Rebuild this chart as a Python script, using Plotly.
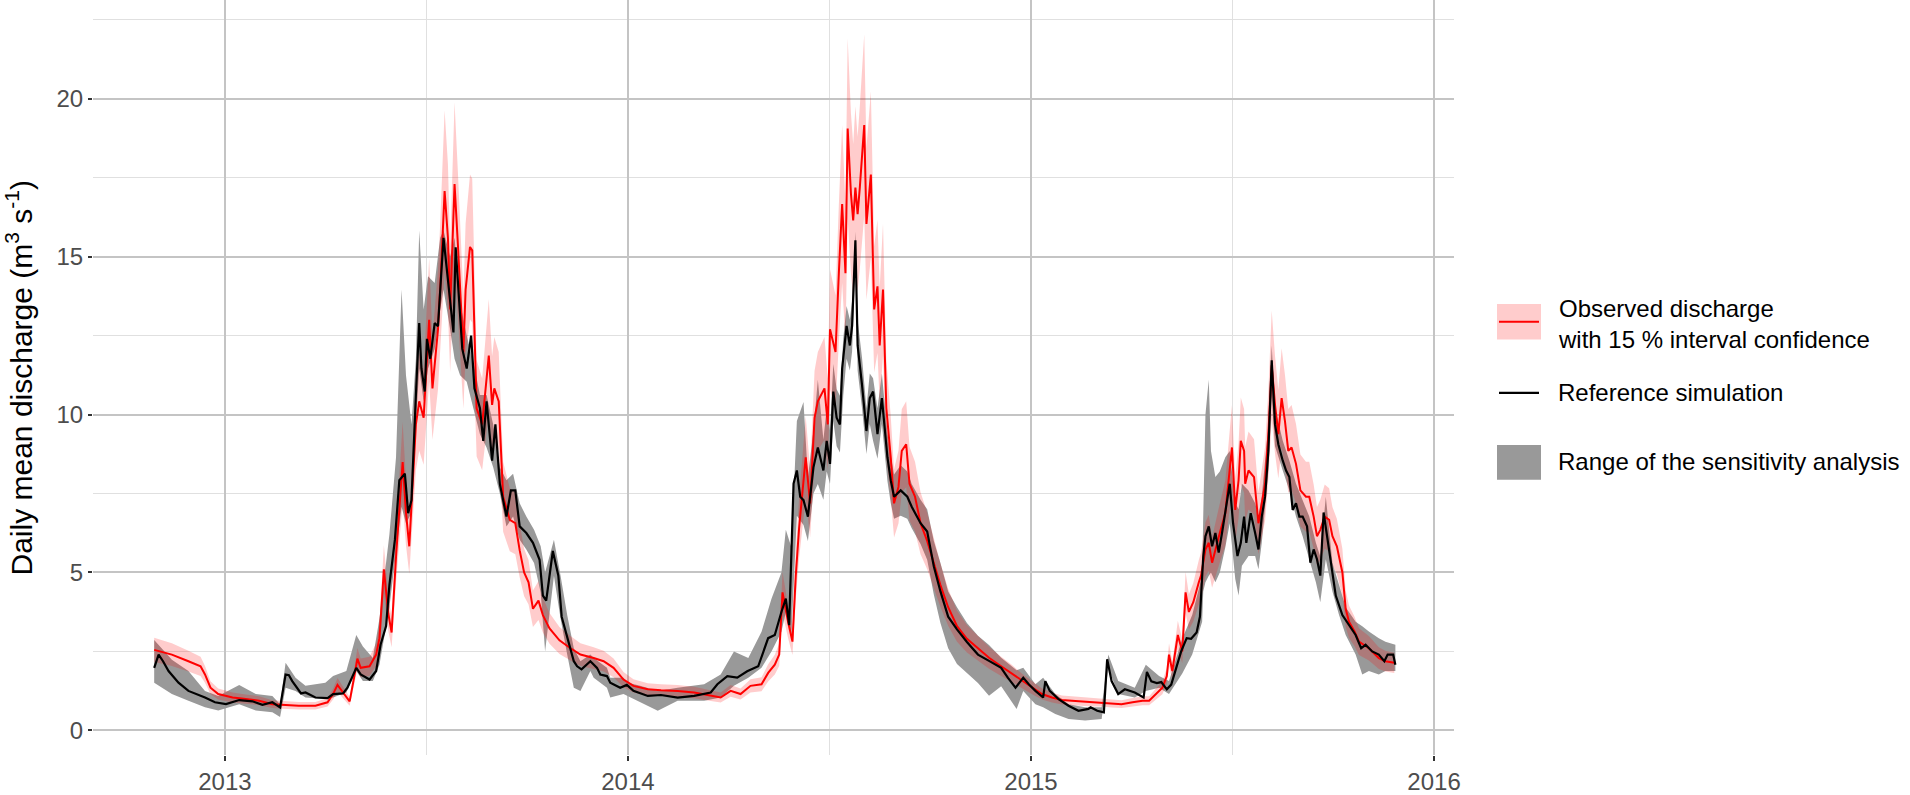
import pandas as pd
import plotly.graph_objects as go

# days counted from 2013-01-01
obs_day = [-64, -48, -33, -22, -18, -13, -6, 7, 19, 31, 43, 52, 67, 82, 93, 98, 102, 107, 113, 117,
           120, 123, 131, 137, 140, 144, 148, 151, 155, 161, 164, 167, 173, 176, 180, 185, 188, 193, 195, 199,
           202, 204, 208, 211, 216, 218, 222, 224, 228, 233, 239, 242, 244, 248, 252, 258, 263, 267, 271, 275,
           279, 284, 288, 294, 303, 313, 322, 334, 343, 352, 361, 370, 383, 395, 410, 425, 440, 449, 458, 467,
           476, 486, 492, 498, 502, 505, 510, 514, 517, 520, 526, 530, 534, 537, 543, 546, 548, 553, 556, 559,
           562, 564, 567, 569, 571, 573, 575, 579, 581, 585, 588, 591, 593, 596, 599, 603, 606, 610, 613, 617,
           620, 625, 630, 636, 642, 648, 655, 663, 672, 682, 692, 703, 712, 722, 731, 740, 749, 758, 767, 776,
           785, 794, 803, 812, 822, 831, 837, 843, 849, 853, 855, 858, 863, 867, 870, 873, 877, 882, 884, 888,
           891, 894, 897, 901, 906, 912, 915, 918, 920, 923, 924, 927, 932, 934, 936, 939, 942, 945, 948, 951,
           954, 957, 960, 963, 966, 970, 974, 979, 982, 986, 989, 992, 996, 1000, 1003, 1007, 1012, 1015, 1018, 1023,
           1027, 1036, 1045, 1051, 1059]
obs_q = [2.55, 2.40, 2.19, 2.03, 1.77, 1.35, 1.15, 1.04, 0.99, 0.94, 0.83, 0.81, 0.78, 0.78, 0.89, 1.15, 1.44, 1.20, 0.92, 1.67,
         2.27, 1.98, 2.03, 2.40, 2.92, 5.10, 3.70, 3.10, 5.50, 8.50, 6.90, 5.83, 9.69, 10.42, 9.90, 13.00, 10.83, 12.70, 13.96, 17.08,
         15.60, 13.33, 17.30, 15.40, 11.98, 13.96, 15.31, 15.20, 10.20, 9.69, 11.87, 10.31, 10.83, 10.42, 7.40, 6.67, 6.56, 5.70, 5.00, 4.69,
         3.85, 4.11, 3.65, 3.23, 2.85, 2.60, 2.40, 2.29, 2.19, 1.98, 1.61, 1.41, 1.30, 1.27, 1.25, 1.20, 1.09, 1.04, 1.25, 1.15,
         1.41, 1.46, 1.82, 2.08, 2.40, 4.37, 3.44, 2.81, 4.90, 6.40, 8.65, 7.19, 9.90, 10.42, 10.83, 9.69, 12.70, 11.98, 14.48, 16.67,
         14.48, 19.06, 16.98, 16.15, 17.19, 16.35, 17.19, 19.17, 16.04, 17.60, 13.33, 14.06, 12.19, 13.96, 10.21, 8.65, 7.19, 7.71, 8.85, 9.06,
         7.81, 7.40, 6.56, 6.00, 5.30, 4.60, 3.90, 3.30, 2.90, 2.60, 2.30, 2.03, 1.82, 1.56, 1.35, 1.15, 1.04, 0.96, 0.94, 0.92,
         0.89, 0.89, 0.85, 0.83, 0.89, 0.94, 0.94, 1.15, 1.35, 1.72, 2.40, 1.88, 3.02, 2.50, 4.37, 3.75, 4.06, 4.69, 4.90, 5.73,
         5.94, 5.31, 5.73, 6.25, 6.88, 8.96, 6.98, 7.92, 9.17, 8.85, 7.81, 8.23, 8.02, 7.29, 6.56, 7.19, 7.81, 9.38, 11.56, 10.31,
         9.38, 10.52, 9.79, 8.85, 8.96, 8.44, 7.60, 7.40, 7.40, 6.77, 6.15, 6.35, 6.77, 6.67, 6.15, 5.83, 5.00, 3.85, 3.44, 3.13,
         2.81, 2.60, 2.29, 2.19, 2.14]

ref_day = [-64, -60, -56, -51, -42, -33, -18, -9, 1, 13, 25, 34, 43, 50, 55, 58, 61, 69, 73, 82,
           93, 98, 107, 111, 119, 123, 131, 137, 141, 146, 149, 154, 158, 163, 166, 169, 173, 176, 178, 181,
           183, 186, 190, 193, 198, 201, 204, 207, 209, 211, 215, 219, 223, 226, 231, 234, 237, 242, 245, 249,
           255, 259, 263, 267, 273, 279, 285, 288, 291, 297, 302, 305, 310, 316, 319, 323, 331, 337, 340, 346,
           349, 358, 364, 370, 383, 395, 410, 425, 440, 446, 455, 464, 473, 483, 492, 498, 504, 508, 511, 513,
           515, 518, 521, 524, 528, 533, 537, 542, 545, 548, 551, 554, 557, 559, 563, 566, 568, 571, 573, 577,
           581, 584, 587, 591, 595, 600, 603, 606, 612, 618, 622, 630, 636, 642, 648, 655, 663, 672, 682, 692,
           703, 709, 716, 723, 728, 734, 741, 743, 747, 755, 764, 773, 782, 784, 790, 796, 799, 803, 809, 815,
           824, 832, 835, 839, 844, 848, 853, 857, 862, 866, 871, 875, 880, 883, 886, 888, 891, 894, 897, 900,
           903, 906, 910, 913, 917, 920, 923, 925, 929, 933, 936, 939, 942, 945, 948, 951, 954, 958, 961, 964,
           967, 970, 973, 976, 980, 983, 986, 989, 992, 995, 1003, 1006, 1012, 1018, 1024, 1029, 1033, 1039, 1045, 1050,
           1053, 1058, 1060]
ref_q = [1.98, 2.40, 2.19, 1.88, 1.51, 1.25, 1.04, 0.89, 0.83, 0.96, 0.92, 0.81, 0.89, 0.73, 1.77, 1.75, 1.56, 1.17, 1.20, 1.04,
         1.02, 1.15, 1.17, 1.35, 1.98, 1.77, 1.61, 1.88, 2.71, 3.30, 4.60, 6.04, 7.92, 8.13, 6.88, 7.29, 10.62, 12.90, 11.46, 10.73,
         12.40, 11.77, 12.90, 12.80, 15.60, 14.58, 13.75, 12.60, 15.30, 14.17, 12.08, 11.46, 12.50, 10.83, 10.20, 9.17, 10.42, 8.54, 9.69, 7.81,
         6.77, 7.60, 7.60, 6.46, 6.25, 5.94, 5.40, 4.27, 4.11, 5.68, 4.90, 3.60, 2.92, 2.19, 2.03, 1.93, 2.19, 1.98, 1.77, 1.72,
         1.51, 1.35, 1.44, 1.25, 1.09, 1.12, 1.04, 1.09, 1.20, 1.46, 1.72, 1.67, 1.87, 2.03, 2.92, 3.02, 3.75, 4.17, 3.33, 5.40,
         7.81, 8.23, 7.40, 7.29, 6.77, 8.33, 8.96, 8.23, 9.17, 8.44, 10.73, 9.90, 9.69, 11.46, 12.81, 12.19, 12.81, 15.52, 12.19, 10.94,
         9.48, 10.52, 10.73, 9.38, 10.52, 8.65, 7.92, 7.40, 7.60, 7.40, 7.08, 6.56, 6.30, 5.20, 4.40, 3.60, 3.20, 2.80, 2.40, 2.20,
         1.98, 1.67, 1.35, 1.67, 1.46, 1.25, 1.04, 1.56, 1.25, 0.99, 0.78, 0.62, 0.68, 0.73, 0.62, 0.57, 2.25, 1.56, 1.15, 1.30,
         1.20, 1.04, 1.85, 1.55, 1.50, 1.53, 1.30, 1.45, 2.00, 2.50, 2.92, 2.90, 3.10, 3.60, 5.50, 6.15, 6.46, 5.83, 6.25, 5.63,
         6.25, 6.98, 7.81, 6.56, 5.52, 5.94, 6.77, 5.94, 6.88, 6.25, 5.73, 6.77, 7.40, 8.85, 11.72, 9.69, 9.06, 8.54, 8.23, 8.02,
         6.98, 7.19, 6.77, 6.77, 6.46, 5.31, 5.73, 5.42, 4.90, 6.90, 5.00, 4.27, 3.65, 3.33, 3.02, 2.60, 2.71, 2.50, 2.40, 2.19,
         2.40, 2.40, 2.08]

sens_day = [-64, -48, -33, -18, -6, 13, 28, 43, 50, 55, 64, 73, 91, 98, 110, 119, 125, 134, 140, 149,
            155, 160, 164, 169, 173, 176, 180, 184, 190, 195, 198, 204, 208, 213, 219, 225, 231, 237, 243, 249,
            255, 261, 267, 273, 280, 286, 290, 298, 304, 310, 316, 322, 331, 334, 346, 349, 361, 365, 376, 392,
            410, 434, 449, 461, 474, 486, 495, 504, 508, 513, 518, 524, 528, 533, 537, 542, 545, 548, 551, 554,
            557, 560, 563, 566, 568, 571, 573, 577, 581, 584, 587, 591, 595, 600, 603, 606, 612, 618, 622, 630,
            636, 642, 648, 655, 663, 672, 682, 692, 703, 717, 723, 734, 741, 752, 764, 779, 794, 800, 809, 824,
            834, 846, 855, 867, 876, 885, 886, 888, 891, 893, 897, 901, 906, 910, 915, 918, 921, 927, 933, 936,
            939, 945, 948, 951, 958, 964, 970, 976, 982, 988, 992, 997, 1003, 1009, 1015, 1024, 1030, 1036, 1045, 1051,
            1060]
sens_lo = [1.51, 1.15, 0.94, 0.73, 0.63, 0.83, 0.63, 0.57, 0.42, 1.35, 1.25, 1.04, 0.99, 1.04, 1.20, 1.88, 1.56, 1.56, 2.08, 3.90,
           5.60, 7.08, 6.56, 6.88, 9.69, 11.46, 10.42, 11.46, 12.08, 13.33, 13.96, 12.70, 11.77, 11.25, 11.04, 10.20, 9.38, 8.96, 8.33, 7.50,
           6.46, 6.77, 6.04, 5.73, 5.30, 4.37, 2.50, 4.90, 3.54, 2.40, 1.35, 1.25, 1.88, 1.67, 1.35, 1.04, 1.15, 1.09, 0.89, 0.62,
           0.94, 0.94, 1.04, 1.41, 1.67, 1.98, 2.50, 3.12, 3.75, 3.00, 6.80, 6.50, 6.00, 7.50, 7.80, 7.30, 8.20, 7.80, 9.80, 9.00,
           8.80, 10.60, 11.77, 11.40, 12.00, 14.80, 11.40, 10.20, 8.75, 9.70, 9.17, 8.60, 9.70, 7.90, 7.20, 6.70, 6.80, 6.70, 6.40, 5.90,
           5.40, 4.30, 3.40, 2.60, 2.10, 1.80, 1.50, 1.10, 1.40, 0.68, 1.25, 0.83, 0.73, 0.52, 0.36, 0.31, 0.36, 1.98, 1.15, 1.04,
           1.25, 1.35, 1.15, 1.80, 2.40, 3.44, 4.40, 4.69, 4.90, 5.00, 4.69, 5.00, 5.80, 6.56, 4.79, 4.27, 5.21, 5.52, 5.52, 5.10,
           5.94, 8.23, 10.60, 9.00, 8.23, 7.60, 6.77, 6.15, 5.42, 4.69, 4.06, 5.42, 4.40, 3.65, 3.02, 2.40, 1.77, 1.88, 1.77, 1.88,
           1.88]
sens_hi = [2.86, 2.24, 1.88, 1.25, 1.09, 1.44, 1.15, 1.09, 0.83, 2.14, 1.67, 1.41, 1.51, 1.72, 1.88, 3.02, 2.66, 2.29, 3.54, 6.20,
           8.65, 13.96, 11.25, 9.69, 11.77, 15.83, 13.33, 14.38, 14.17, 15.60, 15.83, 15.00, 15.60, 13.54, 12.50, 11.67, 10.62, 10.62, 9.69, 8.33,
           7.92, 8.13, 7.19, 6.77, 6.35, 5.83, 5.00, 6.04, 4.90, 3.65, 2.60, 2.19, 2.40, 2.29, 1.98, 1.67, 1.67, 1.51, 1.41, 1.25,
           1.35, 1.46, 1.77, 2.50, 2.29, 3.12, 4.17, 5.00, 6.35, 5.80, 9.80, 10.40, 8.00, 9.50, 11.10, 9.20, 10.20, 9.50, 11.60, 10.80,
           10.60, 12.40, 13.44, 13.00, 13.60, 15.80, 13.00, 11.80, 10.20, 11.30, 11.15, 10.20, 11.30, 9.40, 8.70, 8.10, 8.40, 8.20, 7.80, 7.30,
           7.00, 6.00, 5.30, 4.40, 3.90, 3.40, 3.00, 2.70, 2.30, 1.90, 1.98, 1.46, 1.67, 1.15, 0.83, 0.73, 0.73, 2.40, 1.56, 1.35,
           2.08, 1.72, 1.56, 2.90, 3.65, 4.90, 6.80, 10.00, 11.10, 8.85, 8.02, 8.20, 8.65, 8.85, 7.20, 7.00, 7.81, 7.60, 7.19, 6.80,
           7.40, 9.69, 12.19, 10.20, 9.17, 8.54, 7.81, 7.29, 6.77, 5.94, 5.50, 7.40, 5.30, 4.60, 3.90, 3.44, 3.30, 3.13, 2.92, 2.81,
           2.71]

year_ticks = ["2013-01-01", "2014-01-01", "2015-01-01", "2016-01-01"]
year_labels = ["2013", "2014", "2015", "2016"]
y_ticks = [0, 5, 10, 15, 20]

base = pd.Timestamp("2013-01-01")
def to_dates(days):
    return list(base + pd.to_timedelta(days, unit="D"))

obs_x = to_dates(obs_day)
ref_x = to_dates(ref_day)
sens_x = to_dates(sens_day)
obs_lo = [q * 0.85 for q in obs_q]   # 15 % confidence interval
obs_hi = [q * 1.15 for q in obs_q]

FONT = "Liberation Sans, Arial, Helvetica, sans-serif"

fig = go.Figure()
fig.add_trace(go.Scatter(x=sens_x + sens_x[::-1], y=sens_hi + sens_lo[::-1], fill="toself",
                         fillcolor="#999999", line=dict(width=0), mode="lines", hoverinfo="skip"))
fig.add_trace(go.Scatter(x=obs_x + obs_x[::-1], y=obs_hi + obs_lo[::-1], fill="toself",
                         fillcolor="rgba(255,0,0,0.2)", line=dict(width=0), mode="lines", hoverinfo="skip"))
fig.add_trace(go.Scatter(x=obs_x, y=obs_q, mode="lines", line=dict(color="#FF0000", width=2)))
fig.add_trace(go.Scatter(x=ref_x, y=ref_q, mode="lines", line=dict(color="#000000", width=2.2)))

# manual legend (ggplot style keys)
L, W, H = 93, 1361, 765
def px(x):
    return (x - L) / W
def py(y):
    return (H - y) / H

shapes = [
    dict(type="rect", xref="paper", yref="paper", x0=px(1497), x1=px(1541), y0=py(344), y1=py(308),
         fillcolor="rgba(255,0,0,0.2)", line=dict(width=0)),
    dict(type="line", xref="paper", yref="paper", x0=px(1499), x1=px(1539), y0=py(326), y1=py(326),
         line=dict(color="#FF0000", width=2)),
    dict(type="line", xref="paper", yref="paper", x0=px(1499), x1=px(1539), y0=py(398), y1=py(398),
         line=dict(color="#000000", width=2.2)),
    dict(type="rect", xref="paper", yref="paper", x0=px(1497), x1=px(1541), y0=py(486), y1=py(451),
         fillcolor="#999999", line=dict(width=0)),
]
legend_text = [("Observed discharge<br>with 15 % interval confidence", 328),
               ("Reference simulation", 398),
               ("Range of the sensitivity analysis", 468)]
annotations = [dict(text=t, xref="paper", yref="paper", x=px(1556), y=py(yy), xanchor="left",
                    yanchor="middle", showarrow=False, align="left",
                    font=dict(family=FONT, size=24, color="#000000")) for t, yy in legend_text]
annotations.append(dict(text="Daily mean discharge (m<sup>3</sup> s<sup>-1</sup>)", xref="paper", yref="paper",
                        x=px(19), y=0.5, xanchor="center", yanchor="middle", textangle=-90, showarrow=False,
                        font=dict(family=FONT, size=30, color="#000000")))

fig.update_layout(
    width=1910, height=795,
    margin=dict(l=93, r=456, t=0, b=30),
    paper_bgcolor="white", plot_bgcolor="white",
    showlegend=False,
    shapes=shapes, annotations=annotations,
    font=dict(family=FONT),
)
fig.update_xaxes(
    type="date", range=["2012-09-03 14:00", "2016-01-19 02:00"],
    tickvals=year_ticks, ticktext=year_labels,
    ticks="outside", ticklen=5, tickwidth=1.5, tickcolor="#333333",
    tickfont=dict(family=FONT, size=24, color="#4D4D4D"),
    showgrid=True, gridcolor="#C4C4C4", gridwidth=1.5,
    minor=dict(tickvals=["2013-07-02 12:00", "2014-07-02 12:00", "2015-07-02 12:00"],
               showgrid=True, gridcolor="#E0E0E0", gridwidth=1, ticks=""),
    showline=False, zeroline=False,
)
fig.update_yaxes(
    range=[-0.78, 23.13],
    tickvals=y_ticks,
    ticks="outside", ticklen=4, tickwidth=1.5, tickcolor="#333333",
    tickfont=dict(family=FONT, size=24, color="#4D4D4D"),
    showgrid=True, gridcolor="#C4C4C4", gridwidth=1.5,
    minor=dict(tickvals=[2.5, 7.5, 12.5, 17.5, 22.5], showgrid=True, gridcolor="#E0E0E0", gridwidth=1, ticks=""),
    showline=False, zeroline=False,
)

# drop the default 8px page margin so the figure fills the window exactly
fig.write_html("out.html", config={"displayModeBar": False},
               post_script="document.body.style.margin='0px';document.body.style.overflow='hidden';")
